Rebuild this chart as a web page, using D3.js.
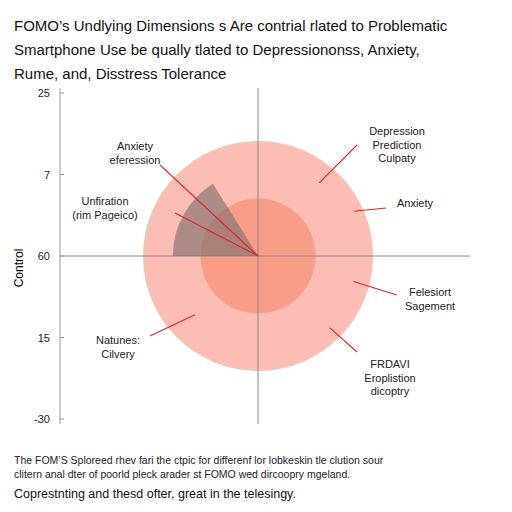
<!DOCTYPE html>
<html><head><meta charset="utf-8">
<script src="https://cdn.jsdelivr.net/npm/d3@7"></script>
<style>body{margin:0;background:#fff}</style>
</head><body>
<svg id="chart" width="512" height="512"></svg>
<script>
// values
const titleLines = [
  "FOMO’s Undlying Dimensions s Are contrial rlated to Problematic",
  "Smartphone Use be qually tlated to Depressiononss, Anxiety,",
  "Rume, and, Disstress Tolerance"
];
const yTicks = ["25", "7", "60", "15", "-30"];
const rings = [1.0, 0.5];           // relative radii of the two circles
const ringColors = ["#fbbdb4", "#f89d88"];
const wedge = { start: 180, end: 122, r: 0.74 };
// annotations: label, label anchor, target angle (deg) & radius
const labels = [
  { text: ["Anxiety", "eferession"], x: 135, y: 150, lx: 160, ly: 165, ang: 0, rr: 0, anchor: "middle" },
  { text: ["Unfiration", "(rim Pageico)"], x: 105, y: 205, lx: 175, ly: 213, ang: 0, rr: 0, anchor: "middle" },
  { text: ["Depression", "Prediction", "Culpaty"], x: 397, y: 135, lx: 357, ly: 145, ang: 50, rr: 0.83, anchor: "middle" },
  { text: ["Anxiety"], x: 415, y: 207, lx: 386, ly: 208, ang: 25, rr: 0.92, anchor: "middle" },
  { text: ["Felesiort", "Sagement"], x: 430, y: 296, lx: 397, ly: 295, ang: -15, rr: 0.86, anchor: "middle" },
  { text: ["FRDAVI", "Eroplistion", "dicoptry"], x: 390, y: 368, lx: 357, ly: 352, ang: -45, rr: 0.88, anchor: "middle" },
  { text: ["Natunes:", "Cilvery"], x: 118, y: 344, lx: 150, ly: 336, ang: -137, rr: 0.75, anchor: "middle" }
];
const footer = [
  "The FOM’S Sploreed rhev fari the ctpic for differenf lor lobkeskin tle clution sour",
  "clitern anal dter of poorld pleck arader st FOMO wed dircoopry mgeland."
];
const footer2 = "Coprestnting and thesd ofter, great in the telesingy.";

const svg = d3.select("#chart");
const font = "Liberation Sans, Arial, sans-serif";

svg.selectAll(".title").data(titleLines).join("text")
  .attr("x", 14).attr("y", (d, i) => 31 + i * 24)
  .attr("font-family", font).attr("font-size", 15).attr("fill", "#111")
  .text(d => d);

const y = d3.scalePoint().domain(yTicks).range([93, 419]);
const cx = 258, cy = y("60");
const R = 115;
const rScale = d3.scaleLinear().domain([0, 1]).range([0, R]);

// left axis
svg.append("line").attr("x1", 60).attr("x2", 60).attr("y1", 88).attr("y2", 424).attr("stroke", "#999");
svg.selectAll(".tick").data(yTicks).join("text")
  .attr("x", 50).attr("y", d => y(d) + 4).attr("text-anchor", "end")
  .attr("font-family", font).attr("font-size", 11).attr("fill", "#222").text(d => d);
svg.selectAll(".tickm").data(yTicks).join("line")
  .attr("x1", 60).attr("x2", 64).attr("y1", d => y(d)).attr("y2", d => y(d)).attr("stroke", "#999");
svg.append("text").attr("transform", "translate(23,268) rotate(-90)")
  .attr("text-anchor", "middle").attr("font-family", font).attr("font-size", 12).text("Control");

// circles
svg.selectAll(".ring").data(rings).join("circle")
  .attr("cx", cx).attr("cy", cy).attr("r", d => rScale(d))
  .attr("fill", (d, i) => ringColors[i]);

// crosshair
svg.append("line").attr("x1", cx).attr("x2", cx).attr("y1", 88).attr("y2", 424).attr("stroke", "#888");
svg.append("line").attr("x1", 60).attr("x2", 470).attr("y1", cy).attr("y2", cy).attr("stroke", "#888");

// gray wedge
const toRad = a => (90 - a) * Math.PI / 180;
const arc = d3.arc().innerRadius(0).outerRadius(rScale(wedge.r))
  .startAngle(toRad(wedge.end)).endAngle(toRad(wedge.start));
svg.append("path").attr("d", arc()).attr("transform", `translate(${cx},${cy})`)
  .attr("fill", "#7d6e6e").attr("fill-opacity", 0.62);

// annotations
labels.forEach(l => {
  const a = l.ang * Math.PI / 180;
  const tx = cx + rScale(l.rr) * Math.cos(a), ty = cy - rScale(l.rr) * Math.sin(a);
  svg.append("line").attr("x1", l.lx).attr("y1", l.ly).attr("x2", tx).attr("y2", ty)
    .attr("stroke", "#d9262a").attr("stroke-width", 1.1);
  const t = svg.append("text").attr("x", l.x).attr("y", l.y)
    .attr("text-anchor", l.anchor).attr("font-family", font).attr("font-size", 11).attr("fill", "#222");
  l.text.forEach((s, i) => t.append("tspan").attr("x", l.x).attr("dy", i ? 13.5 : 0).text(s));
});

svg.selectAll(".foot").data(footer).join("text")
  .attr("x", 14).attr("y", (d, i) => 464 + i * 14)
  .attr("font-family", font).attr("font-size", 10.5).attr("fill", "#222").text(d => d);
svg.append("text").attr("x", 14).attr("y", 498)
  .attr("font-family", font).attr("font-size", 12.5).attr("fill", "#111").text(footer2);
</script>
</body></html>
